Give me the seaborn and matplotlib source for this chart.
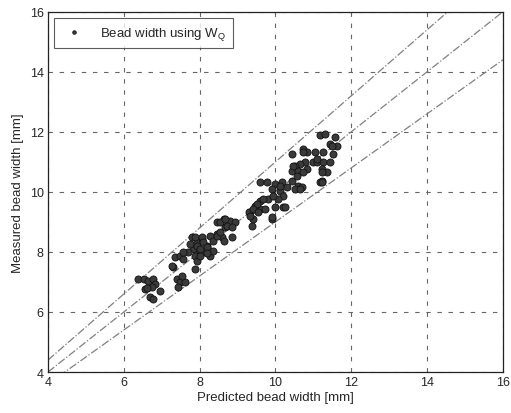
import numpy as np
import pandas as pd
import matplotlib
matplotlib.use("Agg")
import matplotlib.pyplot as plt
import seaborn as sns

# values
predicted = [
    6.38, 6.52, 6.65, 6.78, 6.82, 6.56, 6.74, 6.96, 6.69, 6.78, 6.60,
    7.35, 7.48, 7.57, 7.31, 7.40, 7.48, 7.61, 7.53, 7.88, 7.26, 7.44,
    7.79, 7.92, 8.06, 7.83, 8.01, 8.10, 7.70, 7.88, 8.27, 8.36, 8.19,
    7.88, 8.06, 8.27, 8.45, 8.58, 8.63, 8.36, 8.10, 7.75, 7.92, 8.01,
    8.19, 7.57, 8.45, 8.54, 8.67, 8.85, 7.92, 8.01, 8.19,
    8.45, 8.63, 8.80, 8.93, 8.71, 8.85, 8.54, 8.67,
    9.33, 9.46, 9.42, 9.37, 9.29, 9.59, 9.46, 9.90,
    9.59, 9.77, 9.99, 10.17, 10.30, 9.90, 10.12, 10.21, 10.08, 9.81,
    9.59, 9.51, 9.42, 9.55, 9.33, 9.73, 9.99, 10.21, 9.90, 9.68, 10.25,
    9.94, 10.12,
    10.43, 10.74, 10.83, 10.78, 10.65, 10.52, 10.43, 10.60, 10.83, 10.74,
    10.56, 10.43, 10.60, 10.69, 10.52, 10.47, 11.00, 10.65, 11.18,
    11.18, 11.31, 11.57, 11.44, 11.62, 11.26, 11.53, 11.05, 11.09, 11.26,
    11.44, 11.22, 11.35, 11.22, 11.49, 11.09, 11.22, 11.22, 10.74,
]
measured = [
    7.10, 7.10, 7.04, 7.10, 6.93, 6.77, 6.82, 6.71, 6.49, 6.43, 6.80,
    7.82, 7.88, 7.77, 7.49, 7.10, 6.99, 6.99, 7.21, 7.43, 7.54, 6.82,
    8.49, 8.32, 8.43, 8.10, 8.04, 7.99, 7.99, 7.88, 7.88, 8.04, 8.21,
    8.49, 8.49, 8.54, 8.60, 8.49, 8.38, 8.38, 8.32, 8.27, 8.21, 8.10,
    8.16, 7.99, 8.54, 8.66, 8.82, 8.49, 7.71, 7.88, 7.95,
    8.99, 9.10, 9.04, 8.99, 8.88, 8.82, 8.99, 9.10,
    9.32, 9.43, 9.10, 8.88, 9.32, 9.43, 9.54, 9.10,
    10.32, 10.32, 10.27, 10.32, 10.16, 10.10, 10.04, 9.88, 9.77, 9.77,
    9.71, 9.60, 9.43, 9.32, 9.21, 9.43, 9.49, 9.49, 9.16, 9.77, 9.49,
    9.88, 10.21,
    11.27, 11.43, 11.32, 10.99, 10.93, 10.88, 10.71, 10.71, 10.77, 10.66,
    10.54, 10.38, 10.21, 10.16, 10.10, 10.88, 10.99, 10.10, 10.32,
    11.88, 11.93, 11.82, 11.60, 11.54, 11.32, 11.27, 11.32, 10.99, 10.99,
    10.99, 10.77, 10.66, 10.38, 11.54, 11.10, 10.66, 10.32, 11.32,
]
ref_x = [4, 16]
ref_factors = [1.1, 1.0, 0.9]

df = pd.DataFrame({"Predicted": predicted, "Measured": measured})

sns.set_style("white")
plt.rcParams["font.family"] = ["Liberation Sans", "DejaVu Sans"]

fig = plt.figure(figsize=(5.11, 4.14), dpi=100)
ax = fig.add_axes([0.094, 0.099, 0.890, 0.870])

for f in ref_factors:
    sns.lineplot(x=ref_x, y=[v * f for v in ref_x], ax=ax, color="#808080",
                 linewidth=0.9, linestyle="-.", legend=False)

sns.scatterplot(data=df, x="Predicted", y="Measured", ax=ax, s=26,
                color="#3a3a3a", edgecolor="#111111", linewidth=0.6,
                label="Bead width using W$_\\mathregular{Q}$", zorder=3)

ax.set_xlim(4, 16)
ax.set_ylim(4, 16)
ax.set_xticks(np.arange(4, 17, 2))
ax.set_yticks(np.arange(4, 17, 2))
ax.grid(True, linestyle=(0, (4, 6)), color="#666666", linewidth=0.8)
ax.set_axisbelow(True)
for sp in ax.spines.values():
    sp.set_color("#222222")
    sp.set_linewidth(0.9)
ax.tick_params(labelsize=9, length=0, pad=3)
ax.set_xlabel("Predicted bead width [mm]", fontsize=9.5, labelpad=2)
ax.set_ylabel("Measured bead width [mm]", fontsize=9.5, labelpad=4)

leg = ax.legend(loc="upper left", fontsize=9.5, frameon=True, fancybox=False,
                markerscale=0.5, handletextpad=1.0, borderpad=0.5,
                borderaxespad=0, bbox_to_anchor=(0.013, 0.983))
leg.get_frame().set_edgecolor("#333333")
leg.get_frame().set_linewidth(0.8)

fig.savefig("out.png", dpi=100)
